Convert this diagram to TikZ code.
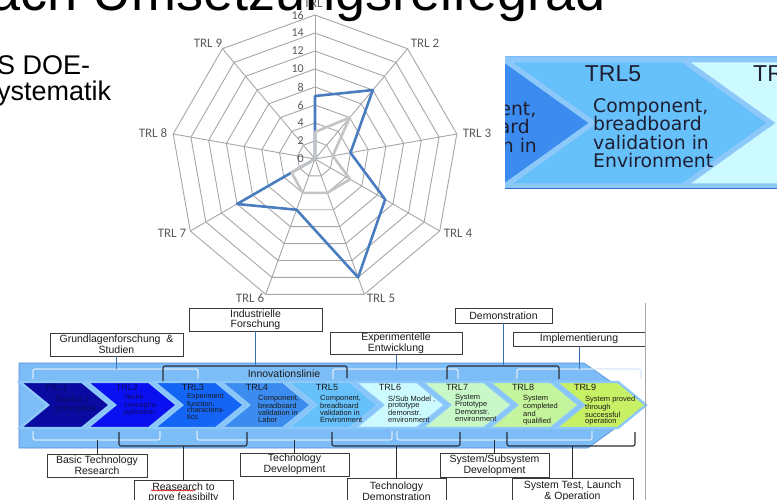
\documentclass[tikz,border=0pt]{standalone}
\usepackage{fontspec}
\setmainfont{Liberation Sans}
\newfontfamily\calfont{Carlito}
\newfontfamily\widefont{DejaVu Sans}
\usetikzlibrary{decorations.pathmorphing,shadows}

\definecolor{gridc}{HTML}{A6A6A6}
\definecolor{serblue}{HTML}{4A7DBF}
\definecolor{sergray}{HTML}{C4C4C4}
\definecolor{axtext}{HTML}{595959}
\definecolor{bandc}{HTML}{7DBDF7}
\definecolor{bandedge}{HTML}{4E8FD8}
\definecolor{chevline}{HTML}{8DC8FA}
\definecolor{lbrack}{HTML}{D8E8F8}
\definecolor{dbrack}{HTML}{2B2B35}
\definecolor{conntop}{HTML}{3C6FB0}
\definecolor{boxc}{HTML}{3A3A3A}
\definecolor{ink}{HTML}{1A1A1A}
\definecolor{cA}{HTML}{0A0AA0}
\definecolor{cB}{HTML}{0A10F0}
\definecolor{cC}{HTML}{1464F5}
\definecolor{cD}{HTML}{3C8CF0}
\definecolor{cE}{HTML}{66C0FA}
\definecolor{cF}{HTML}{CCFAFF}
\definecolor{cG}{HTML}{C8F8C8}
\definecolor{cH}{HTML}{C4F49C}
\definecolor{cI}{HTML}{C8F064}
\definecolor{navytext}{HTML}{0A0A60}
\definecolor{bannerbg}{HTML}{7BBAF4}
\definecolor{bannerline}{HTML}{2A6FC8}
\definecolor{bannerink}{HTML}{1E1E32}

\newcommand\fsz[2]{\fontsize{#1}{#2}\selectfont}

\begin{document}
\begin{tikzpicture}[x=1pt,y=-1pt,
  radargrid/.style={draw=gridc, line width=0.9pt},
  axlabel/.style={text=axtext, inner sep=0pt, font=\calfont\fsz{13}{15}},
  ticklabel/.style={text=axtext, inner sep=0pt, anchor=east, font=\calfont\fsz{12}{14}},
  serieblue/.style={draw=serblue, line width=2.6pt, line join=round},
  seriegray/.style={draw=sergray, line width=2.6pt, line join=round},
  chev/.style={draw=chevline, line width=2.4pt, line join=miter},
  bigchev/.style={draw=chevline, line width=5pt, line join=miter},
  chevtitle/.style={anchor=base, inner sep=0pt, font=\fsz{9}{10}},
  chevbody/.style={anchor=north west, inner sep=0pt, align=left, text=ink},
  lbr/.style={draw=lbrack, line width=1.2pt, rounded corners=2pt},
  dbr/.style={draw=dbrack, line width=1.1pt, rounded corners=2pt},
  ctop/.style={draw=conntop, line width=0.9pt},
  cbot/.style={draw=dbrack, line width=0.9pt},
  lblbox/.style={draw=boxc, line width=0.9pt, fill=white, inner sep=0pt, align=center,
    text=ink, font=\fsz{10.5}{9.6},
    drop shadow={shadow xshift=0.9pt, shadow yshift=-0.9pt, opacity=0.45, fill=black!70}}
]
\useasboundingbox (0,0) rectangle (777,500);
\clip (0,0) rectangle (777,500);

% ---------------- radar chart ----------------
\begin{scope}[shift={(315,159)}]
  \foreach \v [evaluate=\v as \rr using \v*9] in {2,4,...,16}
    \draw[radargrid] (-90:\rr) -- (-50:\rr) -- (-10:\rr) -- (30:\rr) -- (70:\rr)
      -- (110:\rr) -- (150:\rr) -- (190:\rr) -- (230:\rr) -- cycle;
  \foreach \a in {-90,-50,...,230}
    \draw[radargrid] (0,0) -- (\a:144);
  \foreach \v [evaluate=\v as \yy using -\v*9] in {0,2,...,16}
    \node[ticklabel] (tick\v) at (-11,\yy) {\v};
  \draw[serieblue] (-90:63) -- (-50:90) -- (-10:36) -- (30:81) -- (70:126)
    -- (110:54) -- (150:90) -- (0,0) -- cycle;
  \draw[seriegray] (-90:27) -- (-50:54) -- (-10:18) -- (30:40.5) -- (70:36)
    -- (110:36) -- (150:27) -- (0,0) -- cycle;
\end{scope}
\node[axlabel] (ax1) at (318,3) {TRL 1};
\node[axlabel] (ax2) at (425,43) {TRL 2};
\node[axlabel] (ax3) at (477,133) {TRL 3};
\node[axlabel] (ax4) at (458,233) {TRL 4};
\node[axlabel] (ax5) at (381,298) {TRL 5};
\node[axlabel] (ax6) at (250,298) {TRL 6};
\node[axlabel] (ax7) at (172,233) {TRL 7};
\node[axlabel] (ax8) at (153,133) {TRL 8};
\node[axlabel] (ax9) at (208,43) {TRL 9};

% ---------------- heading and side text ----------------
\node[anchor=base east, inner sep=0pt, text=black, font=\fsz{54}{60}] (title) at (606,10.5) {ach Umsetzungsreifegrad};
\node[anchor=base west, inner sep=0pt, text=black, font=\fsz{27}{32}] (sdoe) at (-3,75) {S DOE-};
\node[anchor=base west, inner sep=0pt, text=black, font=\fsz{27}{32}] (syst) at (-3,101) {ystematik};

% ---------------- enlarged TRL5 banner ----------------
\begin{scope}
  \clip (505,56) rectangle (777,189);
  \fill[bannerbg] (505,56) rectangle (777,189);
  \filldraw[bigchev, fill=cD] (327,60) -- (505,60) -- (593,123) -- (505,186) -- (327,186) -- (415,123) -- cycle;
  \filldraw[bigchev, fill=cE] (505,60) -- (683,60) -- (771,123) -- (683,186) -- (505,186) -- (593,123) -- cycle;
  \filldraw[bigchev, fill=cF] (683,60) -- (861,60) -- (949,123) -- (861,186) -- (683,186) -- (771,123) -- cycle;
  \node[chevbody, text=bannerink, font=\widefont\fsz{18.8}{18.3}] (bigfour) at (421,101.3)
    {Component,\\breadboard\\validation in\\Labor};
  \node[chevbody, text=bannerink, font=\widefont\fsz{18.8}{18.3}] (bigfive) at (593,98.5)
    {Component,\\breadboard\\validation in\\Environment};
  \node[anchor=base, inner sep=0pt, text=bannerink, font=\fsz{23}{26}] (bigfivet) at (613,82) {TRL5};
  \node[anchor=base west, inner sep=0pt, text=bannerink, font=\fsz{23}{26}] (bigsixt) at (753,82) {TRL6};
\end{scope}
\draw[draw=bannerline, line width=1.6pt] (505,188.4) -- (777,188.4);
\draw[draw=bandc, line width=1pt] (505,56.5) -- (777,56.5);

% ---------------- TRL chain ----------------
\filldraw[fill=bandc, draw=bandedge, line width=0.6pt]
  (19,363) -- (584,363) -- (646,406) -- (588,448) -- (19,448) -- cycle;
\foreach \i/\cc in {1/cA,2/cB,3/cC,4/cD,5/cE,6/cF,7/cG,8/cH,9/cI}{
  \pgfmathsetmacro\xo{20+67*(\i-1)}
  \filldraw[chev, fill=\cc] (\xo,382) -- ++(62,0) -- ++(28,23) -- ++(-28,23)
    -- ++(-62,0) -- ++(28,-23) -- cycle;
}
\foreach \i/\tx/\tc in {1/56/navytext,2/127/navytext,3/193/ink,4/257/ink,5/327/ink,
                        6/390/ink,7/457/ink,8/523/ink,9/585/ink}
  \node[chevtitle, text=\tc] (t\i) at (\tx,390.5) {TRL\i};

\node[chevbody, text=navytext, font=\fsz{9.5}{8.5}] (b1) at (55,395.6) {Basics /\\principles};
\node[chevbody, text=navytext, font=\fsz{7.3}{7.5}] (b2) at (124,394.5) {Techn.\\concept/a\\pplication};
\node[chevbody, font=\fsz{7.2}{6.6}] (b3) at (187,393) {Experiment\\function,\\characteris-\\tics};
\node[chevbody, font=\fsz{7.5}{6.7}] (b4) at (258,395.5) {Component,\\breadboard\\validation in\\Labor};
\node[chevbody, font=\fsz{7.5}{6.7}] (b5) at (320,395.5) {Component,\\breadboard\\validation in\\Environment};
\node[chevbody, font=\fsz{7.5}{6.7}] (b6) at (388,395.5) {S/Sub Model ,\\prototype\\demonstr.\\environment};
\node[chevbody, font=\fsz{7.5}{6.7}] (b7) at (455,393.6) {System\\Prototype\\Demonstr.\\environment};
\node[chevbody, font=\fsz{7.5}{6.7}] (b8) at (523,395.5) {System\\completed\\and\\qualified};
\node[chevbody, font=\fsz{7.5}{6.7}] (b9) at (585,395.5) {System proved\\through\\successful\\operation};

% brackets above the chain
\draw[lbr] (33,379) -- (33,369) -- (198,369) -- (198,379);
\draw[lbr] (333,379) -- (333,369) -- (458,369) -- (458,379);
\draw[lbr] (517,379) -- (517,369) -- (641,369) -- (641,379);
\draw[dbr] (163,381) -- (163,366) -- (347,366) -- (347,378);
\draw[dbr] (447,379) -- (447,366) -- (559,366) -- (559,379);
% brackets below the chain
\draw[lbr] (33,431) -- (33,440) -- (160,440) -- (160,431);
\draw[lbr] (197,431) -- (197,440) -- (392,440) -- (392,431);
\draw[lbr] (397,431) -- (397,440) -- (592,440) -- (592,431);
\draw[dbr] (119,432) -- (119,446) -- (247,446) -- (247,432);
\draw[dbr] (332,432) -- (332,446) -- (460,446) -- (460,432);
\draw[dbr] (507,432) -- (507,446) -- (635,446) -- (635,432);

\node[anchor=base, inner sep=0pt, text=ink, font=\fsz{10.5}{12}] (innov) at (284,377) {Innovationslinie};

% bracket hooks
\coordinate (gfb) at (116.5,369);
\coordinate (ifb) at (255.5,366);
\coordinate (eeb) at (396,369);
\coordinate (dmb) at (503.5,366);
\coordinate (imb) at (579,369);
\coordinate (btb) at (97,440);
\coordinate (rpb) at (183.5,446);
\coordinate (tdb) at (294.5,440);
\coordinate (tmb) at (396.5,446);
\coordinate (ssb) at (494.5,440);
\coordinate (stb) at (572.5,446);

% labelled boxes
\node[lblbox, minimum width=133pt, minimum height=23pt] (gf) at (116.5,344.5) {Grundlagenforschung~~\&\\Studien};
\node[lblbox, minimum width=133pt, minimum height=23pt] (if) at (255.5,319.5) {Industrielle\\Forschung};
\node[lblbox, minimum width=132pt, minimum height=22pt] (ee) at (396,343) {Experimentelle\\Entwicklung};
\node[lblbox, minimum width=97pt, minimum height=15pt] (dm) at (503.5,315.5) {Demonstration};
\node[lblbox, minimum width=132pt, minimum height=14pt] (im) at (579,339) {Implementierung};
\node[lblbox, minimum width=100pt, minimum height=23pt] (bt) at (97,465.5) {Basic Technology\\Research};
\node[lblbox, minimum width=99pt, minimum height=26pt] (rp) at (183.5,493) {Reasearch to\\prove feasibilty};
\node[lblbox, minimum width=109pt, minimum height=23pt] (td) at (294.5,464.5) {Technology\\Development};
\node[lblbox, minimum width=99pt, minimum height=26pt] (tm) at (396.5,491) {Technology\\Demonstration};
\node[lblbox, minimum width=109pt, minimum height=24pt] (ss) at (494.5,465) {System/Subsystem\\Development};
\node[lblbox, minimum width=121pt, minimum height=26pt] (st) at (572.5,491) {System Test, Launch\\\& Operation};

\draw[ctop] (gf.south) -- (gfb);
\draw[ctop] (if.south) -- (ifb);
\draw[ctop] (ee.south) -- (eeb);
\draw[ctop] (dm.south) -- (dmb);
\draw[ctop] (im.south) -- (imb);
\draw[cbot] (bt.north) -- (btb);
\draw[cbot] (rp.north) -- (rpb);
\draw[cbot] (td.north) -- (tdb);
\draw[cbot] (tm.north) -- (tmb);
\draw[cbot] (ss.north) -- (ssb);
\draw[cbot] (st.north) -- (stb);

% spelling mark under the first word
\draw[red!80!black, line width=0.5pt, decorate,
  decoration={snake, amplitude=0.6pt, segment length=2.2pt}] (151,490.5) -- (195,490.5);

% edge of the pasted chart
\draw[draw=gridc, line width=1.3pt] (645.5,303) -- (645.5,500);
\end{tikzpicture}
\end{document}
